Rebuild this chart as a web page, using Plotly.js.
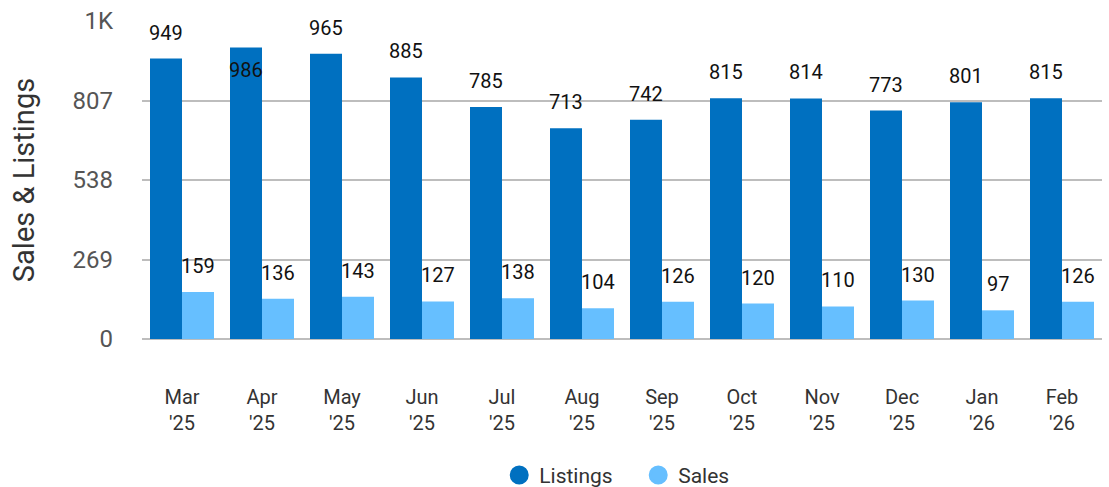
<!DOCTYPE html>
<html><head><meta charset="utf-8">
<script src="https://cdn.plot.ly/plotly-3.0.1.min.js"></script>
<style>html,body{margin:0;padding:0;background:#fff}#chart{width:1109px;height:487px}</style>
</head><body><div id="chart"></div>
<script>
var months = ["Mar<br>'25","Apr<br>'25","May<br>'25","Jun<br>'25","Jul<br>'25","Aug<br>'25","Sep<br>'25","Oct<br>'25","Nov<br>'25","Dec<br>'25","Jan<br>'26","Feb<br>'26"];
var listings = [949,986,965,885,785,713,742,815,814,773,801,815];
var sales = [159,136,143,127,138,104,126,120,110,130,97,126];
var yTickVals = [0,269,538,807,1076];
var yTickText = ["0","269","538","807","1K"];

var cDark = "#0070C0", cLight = "#66BFFF";
var FONT = "Roboto, sans-serif";

var traces = [
  {type:"bar", name:"Listings", x:months, y:listings, marker:{color:cDark}, showlegend:false, hoverinfo:"y"},
  {type:"bar", name:"Sales", x:months, y:sales, marker:{color:cLight}, showlegend:false, hoverinfo:"y"},
  {type:"scatter", mode:"markers", name:"Listings", x:[null], y:[null], marker:{color:cDark, size:16, symbol:"circle", line:{color:cDark, width:3}}},
  {type:"scatter", mode:"markers", name:"Sales", x:[null], y:[null], marker:{color:cLight, size:16, symbol:"circle", line:{color:cLight, width:3}}}
];

var annotations = [];
listings.forEach(function(v,i){
  var inside = v > 980;
  annotations.push({x:months[i], y:v, xref:"x", yref:"y", text:String(v), showarrow:false,
    xshift:-16, yshift: inside ? -22 : 26, font:{family:FONT, size:20, color:"#111"}});
});
sales.forEach(function(v,i){
  annotations.push({x:months[i], y:v, xref:"x", yref:"y", text:String(v), showarrow:false,
    xshift:16, yshift:26, font:{family:FONT, size:20, color:"#111"}});
});

var layout = {
  width:1109, height:487,
  margin:{l:142, r:7, t:21, b:148, autoexpand:false},
  paper_bgcolor:"#fff", plot_bgcolor:"#fff",
  barmode:"group", bargap:0.2, bargroupgap:0,
  font:{family:FONT, color:"#333"},
  showlegend:true,
  legend:{orientation:"h", xref:"container", yref:"container", x:0.5755, xanchor:"center", y:0.024, yanchor:"middle",
    font:{family:FONT, size:21, color:"#333"}, itemsizing:"trace", traceorder:"normal", itemwidth:30,
    entrywidth:94, entrywidthmode:"pixels"},
  xaxis:{type:"category", showgrid:false, zeroline:false, showline:false, ticks:"",
    tickfont:{family:FONT, size:20, color:"#333"}, ticklabelstandoff:44, fixedrange:true},
  yaxis:{range:[0,1076], tickvals:yTickVals, ticktext:yTickText, showgrid:true, gridcolor:"#bdbdbd", gridwidth:2,
    zeroline:true, zerolinecolor:"#bdbdbd", zerolinewidth:2, showline:false, ticks:"",
    tickfont:{family:FONT, size:24, color:"#555"}, ticklabelstandoff:28,
    title:{text:"Sales & Listings", font:{family:FONT, size:29, color:"#333"}, standoff:29}, fixedrange:true},
  annotations:annotations
};
Plotly.newPlot("chart", traces, layout, {displayModeBar:false, staticPlot:true});
</script></body></html>
